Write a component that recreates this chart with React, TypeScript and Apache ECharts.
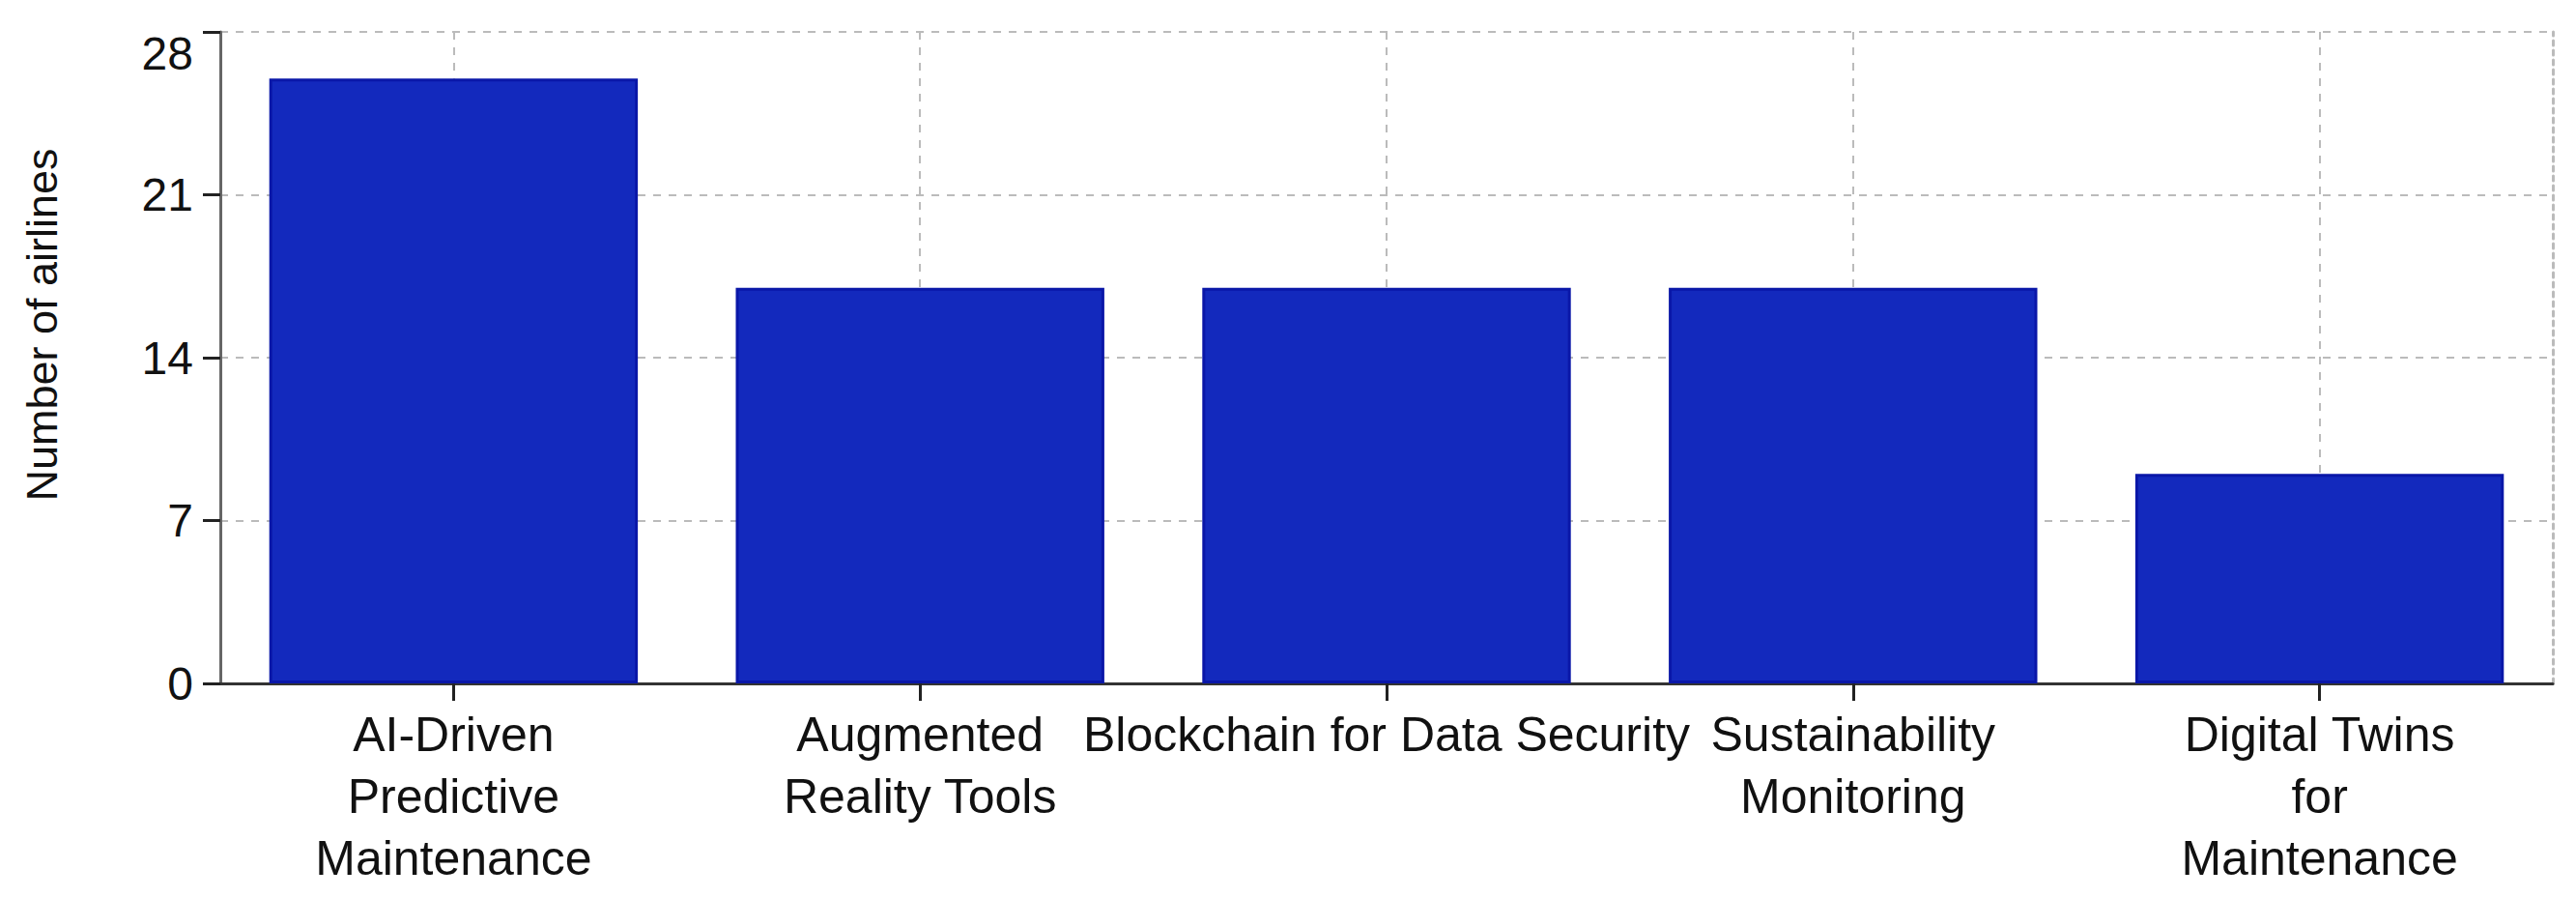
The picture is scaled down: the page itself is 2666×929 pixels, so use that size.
import React, { useEffect, useRef } from "react";
import * as echarts from "echarts";

const categories = [
  "AI-Driven\nPredictive\nMaintenance",
  "Augmented\nReality Tools",
  "Blockchain for Data Security",
  "Sustainability\nMonitoring",
  "Digital Twins\nfor\nMaintenance",
];
const airlineCounts = [26, 17, 17, 17, 9];
const yTicks = { min: 0, max: 28, interval: 7 };
const yAxisTitle = "Number of airlines";

const FONT = "'Liberation Sans', Arial, sans-serif";

export default function App() {
  const ref = useRef<HTMLDivElement>(null);
  useEffect(() => {
    if (!ref.current) return;
    const chart = echarts.init(ref.current, undefined, { renderer: "svg" });
    chart.setOption({
      animation: false,
      backgroundColor: "#ffffff",
      grid: { left: 220, right: 16, top: 25, bottom: 214, containLabel: false },
      xAxis: {
        type: "category",
        data: categories,
        axisLine: { show: true, lineStyle: { color: "#333333", width: 3 } },
        axisTick: { show: true, alignWithLabel: true, length: 18, lineStyle: { color: "#222222", width: 3 } },
        axisLabel: {
          interval: 0,
          margin: 21,
          fontSize: 50,
          lineHeight: 64,
          color: "#111111",
          fontFamily: FONT,
        },
        splitLine: {
          show: true,
          alignWithLabel: true,
          lineStyle: { color: "#BBBBBB", width: 2, type: [8, 8] },
        },
      },
      yAxis: [
        {
          type: "value",
          min: yTicks.min,
          max: yTicks.max,
          interval: yTicks.interval,
          name: yAxisTitle,
          nameLocation: "middle",
          nameGap: 162,
          nameTextStyle: { fontSize: 45, color: "#111111", fontFamily: FONT, padding: [0, 0, 0, 68] },
          axisLine: { show: true, lineStyle: { color: "#666666", width: 3 } },
          axisTick: { show: true, length: 18, lineStyle: { color: "#222222", width: 3 } },
          axisLabel: {
            margin: 28,
            fontSize: 48,
            color: "#111111",
            fontFamily: FONT,
            formatter: (v: number) => (v === yTicks.max ? "{t|" + v + "}" : String(v)),
            rich: { t: { fontSize: 48, color: "#111111", fontFamily: FONT, padding: [44, 0, 0, 0] } },
          },
          splitLine: { show: true, lineStyle: { color: "#BBBBBB", width: 2, type: [8, 8] } },
        },
        {
          type: "value",
          position: "right",
          min: yTicks.min,
          max: yTicks.max,
          interval: yTicks.interval,
          axisLine: { show: true, lineStyle: { color: "#BBBBBB", width: 3, type: [5, 5] } },
          axisTick: { show: false },
          axisLabel: { show: false },
          splitLine: { show: false },
        },
      ],
      series: [
        {
          type: "bar",
          data: airlineCounts,
          barCategoryGap: "21%",
          itemStyle: { color: "#1329BD", borderColor: "#0A17A8", borderWidth: 3 },
        },
      ],
    });
    return () => chart.dispose();
  }, []);
  return <div ref={ref} style={{ width: 2650, height: 913 }} />;
}
